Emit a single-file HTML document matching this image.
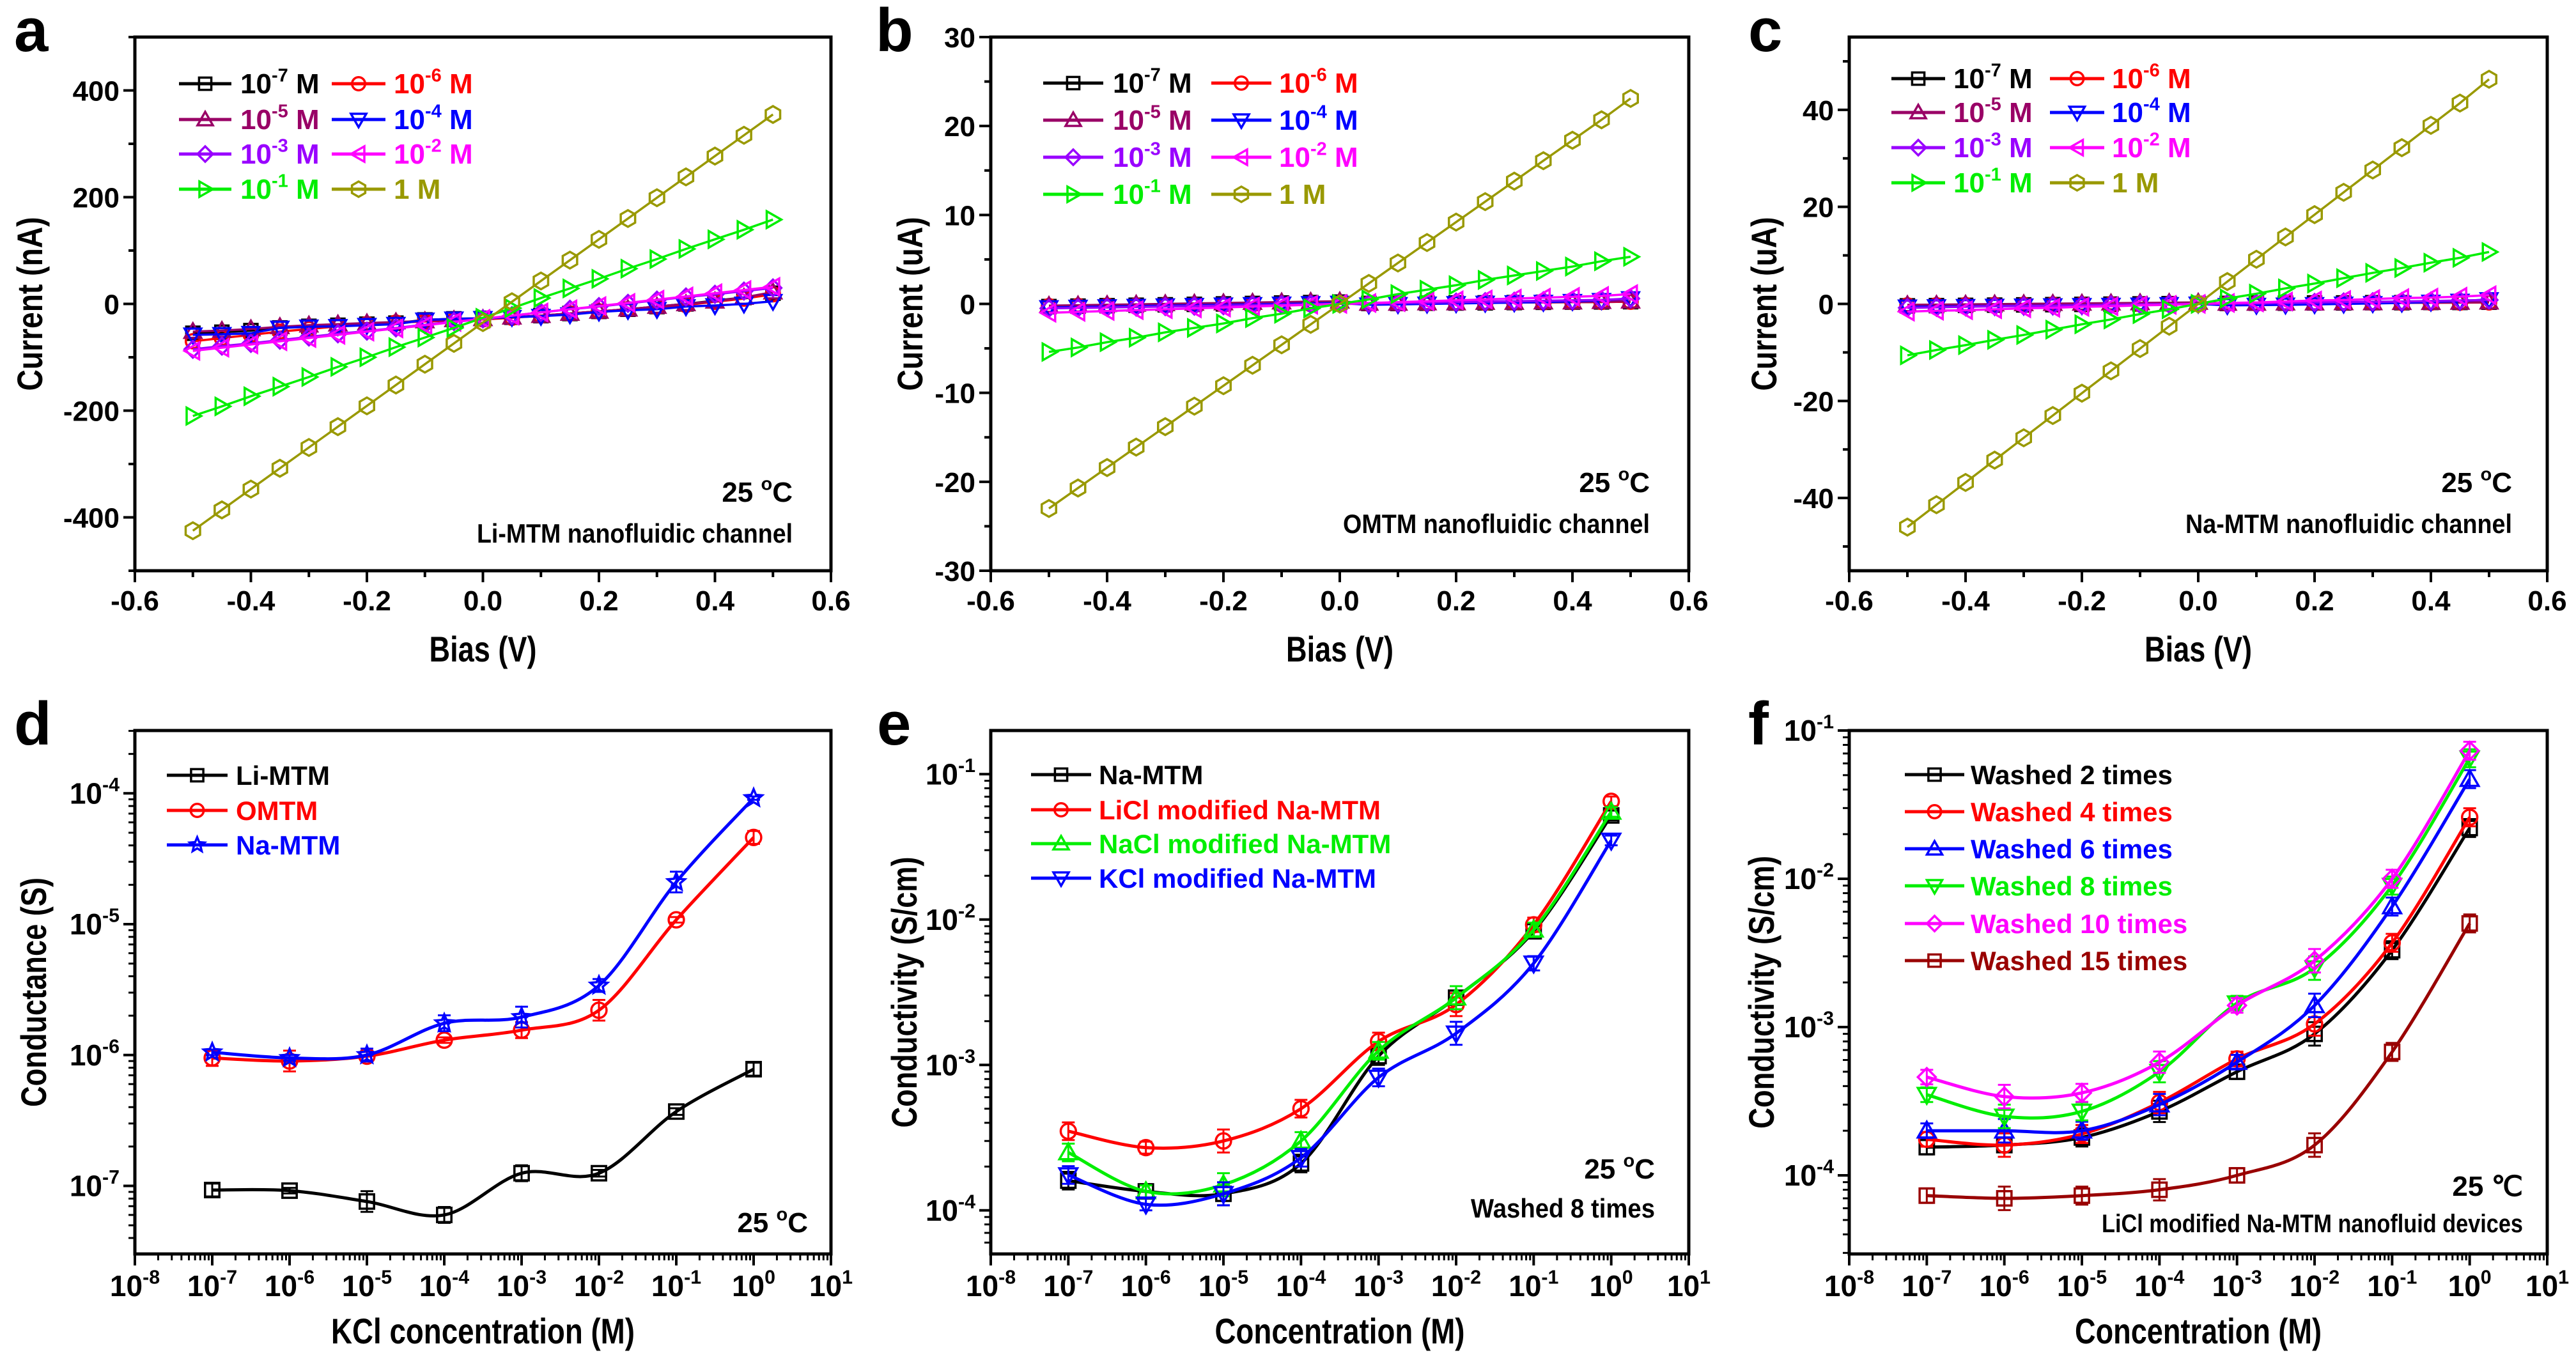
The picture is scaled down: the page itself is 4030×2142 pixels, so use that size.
<!DOCTYPE html>
<html><head><meta charset="utf-8"><style>
html,body{margin:0;padding:0;background:#fff;}
svg{display:block;font-family:"Liberation Sans",Arial,sans-serif;font-weight:bold;}
</style></head><body>
<svg id="fig" xmlns="http://www.w3.org/2000/svg" width="4030" height="2142" viewBox="0 0 4030 2142">
<rect x="0" y="0" width="4030" height="2142" fill="#fff"/>
</svg>
<script>
// ---------- data: panels a-c (I-V) ----------
const biasV=[-0.5,-0.45,-0.4,-0.35,-0.3,-0.25,-0.2,-0.15,-0.1,-0.05,0,0.05,0.1,0.15,0.2,0.25,0.3,0.35,0.4,0.45,0.5];
const ivConcLabels=["-7","-6","-5","-4","-3","-2","-1",""];
const A_1e7=[-55,-53,-50,-45,-42,-40,-38,-36,-30,-28,-27,-25,-22,-18,-14,-10,-5,0,6,12,20];
const A_1e6=[-70,-64,-58,-52,-47,-42,-38,-35,-33,-31,-29,-26,-22,-18,-14,-10,-6,-2,4,10,18];
const A_1e5=[-52,-50,-47,-43,-40,-38,-36,-34,-32,-30,-28,-25,-22,-18,-14,-10,-5,0,5,12,22];
const A_1e4=[-58,-57,-55,-45,-43,-42,-40,-38,-30,-28,-27,-25,-23,-20,-15,-12,-10,-5,-3,0,5];
const A_1e3=[-85,-79,-74,-68,-62,-56,-51,-45,-39,-33,-28,-22,-16,-10,-5,1,7,13,18,24,30];
const A_1e2=[-88,-82,-76,-70,-64,-58,-52,-46,-40,-34,-28,-22,-16,-10,-4,2,8,14,20,26,32];
const A_1e1=[-210,-192,-173,-155,-137,-118,-100,-81,-63,-45,-26,-8,11,29,47,66,84,103,121,139,158];
const A_1M=[-425,-386,-347,-308,-269,-230,-191,-152,-113,-74,-35,4,43,82,121,160,199,238,277,316,355];

const B_1e7=[-0.3,-0.25,-0.2,-0.15,-0.1,-0.05,0,0.05,0.1,0.15,0.2,0.05,0.05,0.08,0.1,0.12,0.15,0.18,0.2,0.22,0.25];
const B_1e6=[-0.25,-0.22,-0.2,-0.17,-0.15,-0.12,-0.1,-0.07,-0.05,-0.02,0,0.02,0.05,0.07,0.1,0.12,0.15,0.17,0.2,0.22,0.25];
const B_1e5=[-0.2,-0.15,-0.1,-0.05,0,0.05,0.1,0.15,0.2,0.25,0.3,0.05,0.05,0.1,0.1,0.15,0.15,0.2,0.2,0.25,0.3];
const B_1e4=[-0.4,-0.35,-0.3,-0.25,-0.2,-0.15,-0.1,-0.05,0,0.05,0.1,-0.1,-0.05,0,0.05,0.1,0.15,0.2,0.3,0.4,0.6];
const B_1e3=[-0.5,-0.45,-0.4,-0.35,-0.3,-0.25,-0.2,-0.15,-0.1,-0.05,0,0.05,0.1,0.15,0.2,0.25,0.3,0.35,0.4,0.45,0.6];
const B_1e2=[-1.0,-0.9,-0.8,-0.7,-0.6,-0.5,-0.4,-0.3,-0.2,-0.1,0,0.1,0.2,0.3,0.4,0.5,0.6,0.7,0.8,0.9,1.1];
const B_1e1=[-5.4,-4.9,-4.3,-3.8,-3.2,-2.7,-2.2,-1.6,-1.1,-0.5,0,0.5,1.1,1.6,2.1,2.7,3.2,3.7,4.2,4.8,5.3];
const B_1M=[-23,-20.7,-18.4,-16.1,-13.8,-11.5,-9.2,-6.9,-4.6,-2.3,0,2.3,4.6,6.9,9.2,11.5,13.8,16.1,18.4,20.7,23.1];

const C_1e7=[-0.4,-0.35,-0.3,-0.25,-0.2,-0.15,-0.1,-0.05,0,0.05,0.1,0.1,0.15,0.15,0.2,0.2,0.25,0.25,0.3,0.3,0.35];
const C_1e6=[-0.3,-0.27,-0.24,-0.21,-0.18,-0.15,-0.12,-0.09,-0.06,-0.03,0,0.03,0.06,0.09,0.12,0.15,0.18,0.21,0.24,0.27,0.3];
const C_1e5=[-0.2,-0.15,-0.1,-0.05,0,0.05,0.1,0.15,0.2,0.25,0.3,0.1,0.1,0.15,0.15,0.2,0.2,0.25,0.25,0.3,0.35];
const C_1e4=[-0.6,-0.55,-0.5,-0.45,-0.4,-0.35,-0.3,-0.25,-0.2,-0.1,0,-0.3,-0.25,-0.2,-0.1,0,0.1,0.2,0.4,0.6,0.9];
const C_1e3=[-0.8,-0.7,-0.6,-0.5,-0.45,-0.4,-0.3,-0.2,-0.1,-0.05,0,0.05,0.1,0.2,0.3,0.4,0.45,0.5,0.6,0.7,0.8];
const C_1e2=[-1.6,-1.4,-1.3,-1.1,-0.9,-0.8,-0.6,-0.5,-0.3,-0.2,0,0.2,0.3,0.5,0.7,0.8,1.0,1.2,1.3,1.5,1.8];
const C_1e1=[-10.6,-9.5,-8.5,-7.4,-6.4,-5.3,-4.2,-3.2,-2.1,-1.1,0,1.1,2.1,3.2,4.2,5.3,6.4,7.4,8.5,9.5,10.7];
const C_1M=[-46,-41.4,-36.8,-32.2,-27.6,-23,-18.4,-13.8,-9.2,-4.6,0,4.6,9.2,13.8,18.4,23,27.6,32.2,36.8,41.4,46.3];

// ---------- data: panels d-f (log) ----------
const concM=[1e-7,1e-6,1e-5,1e-4,1e-3,1e-2,1e-1,1];
const D_Li=[9.3e-8,9.2e-8,7.6e-8,6.0e-8,1.25e-7,1.25e-7,3.7e-7,7.8e-7];
const D_OMTM=[9.5e-7,9.0e-7,9.8e-7,1.3e-6,1.55e-6,2.2e-6,1.08e-5,4.6e-5];
const D_Na=[1.05e-6,9.5e-7,1.0e-6,1.75e-6,1.95e-6,3.4e-6,2.1e-5,9.2e-5];
const D_LiErr=[0.12,0.05,0.2,0.15,0.15,0.06,0.06,0.12];
const D_OMTMErr=[0.15,0.2,0.08,0.05,0.15,0.2,0.05,0.12];
const D_NaErr=[0.05,0.05,0.12,0.15,0.2,0.12,0.2,0.03];

const E_Na=[1.6e-4,1.35e-4,1.3e-4,2.1e-4,1.15e-3,2.9e-3,8.3e-3,5.2e-2];
const E_LiCl=[3.5e-4,2.7e-4,3.0e-4,5.0e-4,1.45e-3,2.6e-3,9.2e-3,6.5e-2];
const E_NaCl=[2.5e-4,1.35e-4,1.5e-4,3.0e-4,1.25e-3,2.9e-3,8.5e-3,5.5e-2];
const E_KCl=[1.75e-4,1.1e-4,1.3e-4,2.3e-4,8.2e-4,1.65e-3,5.0e-3,3.5e-2];
const E_Err=[0.15,0.1,0.2,0.15,0.15,0.2,0.12,0.08];

const F_W2=[1.55e-4,1.6e-4,1.8e-4,2.7e-4,5.0e-4,9.0e-4,3.3e-3,2.2e-2];
const F_W4=[1.75e-4,1.6e-4,1.9e-4,3.1e-4,6.1e-4,1.05e-3,3.7e-3,2.6e-2];
const F_W6=[2.0e-4,2.0e-4,2.0e-4,3.0e-4,5.8e-4,1.4e-3,6.5e-3,4.7e-2];
const F_W8=[3.5e-4,2.5e-4,2.7e-4,5.0e-4,1.45e-3,2.5e-3,9.0e-3,6.5e-2];
const F_W10=[4.6e-4,3.4e-4,3.6e-4,5.8e-4,1.4e-3,2.8e-3,1.0e-2,7.3e-2];
const F_W15=[7.3e-5,7.0e-5,7.3e-5,8.0e-5,1.0e-4,1.6e-4,6.8e-4,5.0e-3];
const F_Err=[0.12,0.2,0.15,0.18,0.12,0.2,0.15,0.15];

// ---------- helpers ----------
const NS="http://www.w3.org/2000/svg";
const svg=document.getElementById('fig');
function el(tag,attrs,parent){const e=document.createElementNS(NS,tag);for(const k in attrs)e.setAttribute(k,attrs[k]);(parent||svg).appendChild(e);return e;}
function txt(parent,x,y,parts,size,anchor,color,extra){
  const t=el('text',Object.assign({x:x,y:y,'font-size':size,'text-anchor':anchor||'start',fill:color||'#000'},extra||{}),parent);
  let raised=false;
  parts.forEach(p=>{
    const sup=Array.isArray(p);const s=sup?p[0]:p;
    const ts=el('tspan',{},t);
    if(sup&&!raised){ts.setAttribute('dy',-size*0.42);ts.setAttribute('font-size',size*0.66);raised=true;}
    else if(sup){ts.setAttribute('font-size',size*0.66);}
    else if(!sup&&raised){ts.setAttribute('dy',size*0.42);raised=false;}
    ts.textContent=s;
  });
  return t;
}
function marker(parent,type,cx,cy,s,color){
  const h=s/2;let pts=null;const a={fill:'none',stroke:color,'stroke-width':3.5};
  let m;
  if(type==='sq'){m=el('rect',Object.assign({x:cx-h*0.8,y:cy-h*0.8,width:s*0.8,height:s*0.8},a),parent);}
  else if(type==='ci'){m=el('circle',Object.assign({cx:cx,cy:cy,r:h*0.85},a),parent);}
  else{
    if(type==='up')pts=[[0,-h],[h,h*0.75],[-h,h*0.75]];
    if(type==='dn')pts=[[0,h],[h,-h*0.75],[-h,-h*0.75]];
    if(type==='lt')pts=[[-h,0],[h*0.75,-h],[h*0.75,h]];
    if(type==='rt')pts=[[h,0],[-h*0.75,-h],[-h*0.75,h]];
    if(type==='di')pts=[[0,-h],[h,0],[0,h],[-h,0]];
    if(type==='hx'){pts=[];for(let k=0;k<6;k++){const an=Math.PI/2+k*Math.PI/3;pts.push([h*Math.cos(an),h*Math.sin(an)]);}}
    if(type==='st'){pts=[];for(let k=0;k<10;k++){const an=-Math.PI/2+k*Math.PI/5;const r=k%2?h*0.45:h;pts.push([r*Math.cos(an),r*Math.sin(an)]);}}
    m=el('polygon',Object.assign({points:pts.map(p=>(cx+p[0])+','+(cy+p[1])).join(' ')},a),parent);
  }
  return m;
}
function smoothPath(pts){
  let d='M'+pts[0][0]+','+pts[0][1];
  for(let i=0;i<pts.length-1;i++){
    const p0=pts[Math.max(0,i-1)],p1=pts[i],p2=pts[i+1],p3=pts[Math.min(pts.length-1,i+2)];
    const c1=[p1[0]+(p2[0]-p0[0])/6,p1[1]+(p2[1]-p0[1])/6];
    const c2=[p2[0]-(p3[0]-p1[0])/6,p2[1]-(p3[1]-p1[1])/6];
    d+=' C'+c1[0]+','+c1[1]+' '+c2[0]+','+c2[1]+' '+p2[0]+','+p2[1];
  }
  return d;
}
function legendEntry(g,x1,x2,tx,y,type,color,parts,size){
  const l=el('line',{x1:x1,y1:y,x2:x2,y2:y,stroke:color,'stroke-width':5},g);
  
  
  marker(g,type,(x1+x2)/2,y,24,color);
  const t=txt(g,tx,y+15,parts,size||44,'start',color);
  
  
}

// ---------- linear I-V panel ----------
function drawIV(p,series){
  const g=el('g',{});
  
  
  const sx=v=>p.x0+(v+0.6)/1.2*(p.x1-p.x0);
  const sy=v=>p.y1-(v-p.ymin)/(p.ymax-p.ymin)*(p.y1-p.y0);
  // x ticks
  for(let i=0;i<=12;i++){
    const v=-0.6+i*0.1,major=i%2===0,X=sx(v);
    el('line',{x1:X,y1:p.y1,x2:X,y2:p.y1+(major?18:10),stroke:'#000','stroke-width':4},g);
    if(major){const t=txt(g,X,p.y1+62,[v.toFixed(1)],44,'middle');}
  }
  // y ticks
  const start=Math.ceil(p.ymin/p.minor)*p.minor;
  for(let v=start;v<=p.ymax+1e-9;v+=p.minor){
    const major=Math.abs(Math.round(v/p.major)*p.major-v)<1e-9,Y=sy(v);
    el('line',{x1:p.x0,y1:Y,x2:p.x0-(major?18:10),y2:Y,stroke:'#000','stroke-width':4},g);
    if(major){const t=txt(g,p.x0-24,Y+16,[String(Math.round(v))],44,'end');}
  }
  // series
  series.forEach(s=>{
    const sg=el('g',{},g);
    
    
    const pts=biasV.map((x,i)=>[sx(x),sy(s.data[i])]);
    el('polyline',{points:pts.map(q=>q.join(',')).join(' '),fill:'none',stroke:s.color,'stroke-width':3.5},sg);
    pts.forEach(q=>marker(sg,s.type,q[0],q[1],26,s.color));
  });
  // frame
  const fr=el('rect',{x:p.x0,y:p.y0,width:p.x1-p.x0,height:p.y1-p.y0,fill:'none',stroke:'#000','stroke-width':5},g);
  
  
  // legend
  const lg=el('g',{},g);
  
  
  series.forEach((s,i)=>{
    const col=i%2,row=Math.floor(i/2);
    const L=p.leg;
    legendEntry(lg,L.c[col][0],L.c[col][1],L.c[col][2],L.rows[row],s.type,s.color,s.label,44);
  });
  // titles
  const xt=txt(g,(p.x0+p.x1)/2,p.y1+142,['Bias (V)'],56,'middle','#000',{textLength:168,lengthAdjust:'spacingAndGlyphs'});
  
  
  const yc=(p.y0+p.y1)/2;
  const yt=txt(g,p.ytx,yc,[p.ytitle],56,'middle','#000',{transform:'rotate(-90 '+p.ytx+' '+yc+')',textLength:272,lengthAdjust:'spacingAndGlyphs',dy:20});
  
  
  const a1=txt(g,p.annX,p.annY1,['25 ',['o'],'C'],44,'end');
  
  
  const a2=txt(g,p.annX,p.annY1+64,[p.ann],42,'end','#000',{textLength:p.annW,lengthAdjust:'spacingAndGlyphs'});
  
  
  const pl=txt(g,p.letX,80,[p.letter],96,'start');
  
  
}

// ---------- log panel ----------
function drawLog(p,series){
  const g=el('g',{});
  
  
  const sx=v=>p.x0+(Math.log10(v)+8)/9*(p.x1-p.x0);
  const sy=v=>p.y1-(Math.log10(v)-p.lmin)/(p.lmax-p.lmin)*(p.y1-p.y0);
  for(let n=-8;n<=1;n++){
    const X=sx(Math.pow(10,n));
    el('line',{x1:X,y1:p.y1,x2:X,y2:p.y1+18,stroke:'#000','stroke-width':4},g);
    const t=txt(g,X,p.y1+66,['10',[String(n)]],46,'middle');
    
    
    if(n<1)for(let k=2;k<=9;k++){const Xm=sx(k*Math.pow(10,n));el('line',{x1:Xm,y1:p.y1,x2:Xm,y2:p.y1+10,stroke:'#000','stroke-width':3},g);}
  }
  for(let n=Math.floor(p.lmin);n<=Math.ceil(p.lmax);n++){
    if(n>=p.lmin-1e-9&&n<=p.lmax+1e-9){
      const Y=sy(Math.pow(10,n));
      el('line',{x1:p.x0,y1:Y,x2:p.x0-18,y2:Y,stroke:'#000','stroke-width':4},g);
      const t=txt(g,p.x0-24,Y+16,['10',[String(n)]],46,'end');
      
      
    }
    for(let k=2;k<=9;k++){const lv=n+Math.log10(k);if(lv>p.lmin&&lv<p.lmax){const Y=sy(Math.pow(10,lv));el('line',{x1:p.x0,y1:Y,x2:p.x0-10,y2:Y,stroke:'#000','stroke-width':3},g);}}
  }
  series.forEach(s=>{
    const sg=el('g',{},g);
    
    
    const pts=concM.map((c,i)=>[sx(c),sy(s.data[i])]);
    el('path',{d:smoothPath(pts),fill:'none',stroke:s.color,'stroke-width':5},sg);
    concM.forEach((c,i)=>{
      const v=s.data[i],e=s.err[i];
      const X=sx(c),Yt=sy(v*(1+e)),Yb=sy(v/(1+e));
      el('line',{x1:X,y1:Yt,x2:X,y2:Yb,stroke:s.color,'stroke-width':3},sg);
      el('line',{x1:X-10,y1:Yt,x2:X+10,y2:Yt,stroke:s.color,'stroke-width':3},sg);
      el('line',{x1:X-10,y1:Yb,x2:X+10,y2:Yb,stroke:s.color,'stroke-width':3},sg);
      marker(sg,s.type,X,sy(v),28,s.color);
    });
  });
  const fr=el('rect',{x:p.x0,y:p.y0,width:p.x1-p.x0,height:p.y1-p.y0,fill:'none',stroke:'#000','stroke-width':5},g);
  
  
  const lg=el('g',{},g);
  
  
  series.forEach((s,i)=>legendEntry(lg,p.leg.x1,p.leg.x2,p.leg.tx,p.leg.rows[i],s.type,s.color,[s.label],42));
  const xt=txt(g,(p.x0+p.x1)/2,p.y1+140,[p.xtitle],56,'middle','#000',{textLength:p.xtW,lengthAdjust:'spacingAndGlyphs'});
  
  
  const yc=(p.y0+p.y1)/2;
  const yt=txt(g,p.ytx,yc,[p.ytitle],56,'middle','#000',{transform:'rotate(-90 '+p.ytx+' '+yc+')',textLength:p.ytW,lengthAdjust:'spacingAndGlyphs',dy:20});
  
  
  p.notes.forEach(nt=>{
    const t=txt(g,nt.x,nt.y,nt.parts,nt.size,'end','#000',nt.w?{textLength:nt.w,lengthAdjust:'spacingAndGlyphs'}:{});
    
    
  });
  const pl=txt(g,p.letX,1165,[p.letter],96,'start');
  
  
}

// ---------- series styling ----------
const ivStyle=[
  {id:'1e-7',type:'sq',color:'#000000',label:['10',['-7'],' M']},
  {id:'1e-6',type:'ci',color:'#ff0000',label:['10',['-6'],' M']},
  {id:'1e-5',type:'up',color:'#990066',label:['10',['-5'],' M']},
  {id:'1e-4',type:'dn',color:'#0000ff',label:['10',['-4'],' M']},
  {id:'1e-3',type:'di',color:'#9900ff',label:['10',['-3'],' M']},
  {id:'1e-2',type:'lt',color:'#ff00ff',label:['10',['-2'],' M']},
  {id:'1e-1',type:'rt',color:'#00ee00',label:['10',['-1'],' M']},
  {id:'1M',type:'hx',color:'#999900',label:['1 M']}
];
function ivSeries(arrs){return ivStyle.map((s,i)=>Object.assign({},s,{data:arrs[i]}));}

drawIV({name:'panel-a',letter:'a',letX:22,x0:211,x1:1300,y0:58,y1:893,ymin:-500,ymax:500,major:200,minor:100,
  ytitle:'Current (nA)',ytx:46,ann:'Li-MTM nanofluidic channel',annX:1240,annY1:785,annW:494,
  leg:{rows:[131,187,241,296],c:[[280,362,376],[519,603,616]]}},
  ivSeries([A_1e7,A_1e6,A_1e5,A_1e4,A_1e3,A_1e2,A_1e1,A_1M]));
drawIV({name:'panel-b',letter:'b',letX:1370,x0:1550,x1:2642,y0:58,y1:893,ymin:-30,ymax:30,major:10,minor:5,
  ytitle:'Current (uA)',ytx:1423,ann:'OMTM nanofluidic channel',annX:2581,annY1:770,annW:480,
  leg:{rows:[130,188,246,304],c:[[1632,1726,1741],[1895,1989,2001]]}},
  ivSeries([B_1e7,B_1e6,B_1e5,B_1e4,B_1e3,B_1e2,B_1e1,B_1M]));
drawIV({name:'panel-c',letter:'c',letX:2735,x0:2893,x1:3985,y0:58,y1:893,ymin:-55,ymax:55,major:20,minor:10,
  ytitle:'Current (uA)',ytx:2759,ann:'Na-MTM nanofluidic channel',annX:3930,annY1:770,annW:511,
  leg:{rows:[123,176,231,286],c:[[2959,3043,3056],[3207,3292,3304]]}},
  ivSeries([C_1e7,C_1e6,C_1e5,C_1e4,C_1e3,C_1e2,C_1e1,C_1M]));

drawLog({name:'panel-d',letter:'d',letX:22,x0:211,x1:1300,y0:1143,y1:1962,lmin:-7.52,lmax:-3.52,
  xtitle:'KCl concentration (M)',xtW:475,ytitle:'Conductance (S)',ytx:52,ytW:359,
  leg:{x1:261,x2:356,tx:369,rows:[1213,1268,1322]},
  notes:[{x:1264,y:1928,parts:['25 ',['o'],'C'],size:44}]},
  [{id:'li-mtm',type:'sq',color:'#000000',label:'Li-MTM',data:D_Li,err:D_LiErr},
   {id:'omtm',type:'ci',color:'#ff0000',label:'OMTM',data:D_OMTM,err:D_OMTMErr},
   {id:'na-mtm',type:'st',color:'#0000ff',label:'Na-MTM',data:D_Na,err:D_NaErr}]);
drawLog({name:'panel-e',letter:'e',letX:1372,x0:1550,x1:2642,y0:1143,y1:1962,lmin:-4.30,lmax:-0.70,
  xtitle:'Concentration (M)',xtW:391,ytitle:'Conductivity (S/cm)',ytx:1414,ytW:424,
  leg:{x1:1613,x2:1707,tx:1719,rows:[1212,1267,1320,1374]},
  notes:[{x:2589,y:1844,parts:['25 ',['o'],'C'],size:44},{x:2589,y:1905,parts:['Washed 8 times'],size:42,w:288}]},
  [{id:'na-mtm',type:'sq',color:'#000000',label:'Na-MTM',data:E_Na,err:E_Err},
   {id:'licl',type:'ci',color:'#ff0000',label:'LiCl modified Na-MTM',data:E_LiCl,err:E_Err},
   {id:'nacl',type:'up',color:'#00ee00',label:'NaCl modified Na-MTM',data:E_NaCl,err:E_Err},
   {id:'kcl',type:'dn',color:'#0000ff',label:'KCl modified Na-MTM',data:E_KCl,err:E_Err}]);
drawLog({name:'panel-f',letter:'f',letX:2735,x0:2893,x1:3985,y0:1143,y1:1962,lmin:-4.53,lmax:-1.0,
  xtitle:'Concentration (M)',xtW:386,ytitle:'Conductivity (S/cm)',ytx:2755,ytW:427,
  leg:{x1:2980,x2:3073,tx:3083,rows:[1212,1270,1328,1386,1445,1503]},
  notes:[{x:3947,y:1871,parts:['25 ℃'],size:44},{x:3947,y:1928,parts:['LiCl modified Na-MTM nanofluid devices'],size:40,w:659}]},
  [{id:'w2',type:'sq',color:'#000000',label:'Washed 2 times',data:F_W2,err:F_Err},
   {id:'w4',type:'ci',color:'#ff0000',label:'Washed 4 times',data:F_W4,err:F_Err},
   {id:'w6',type:'up',color:'#0000ff',label:'Washed 6 times',data:F_W6,err:F_Err},
   {id:'w8',type:'dn',color:'#00ee00',label:'Washed 8 times',data:F_W8,err:F_Err},
   {id:'w10',type:'di',color:'#ff00ff',label:'Washed 10 times',data:F_W10,err:F_Err},
   {id:'w15',type:'sq',color:'#990000',label:'Washed 15 times',data:F_W15,err:F_Err}]);
</script>
</body></html>
